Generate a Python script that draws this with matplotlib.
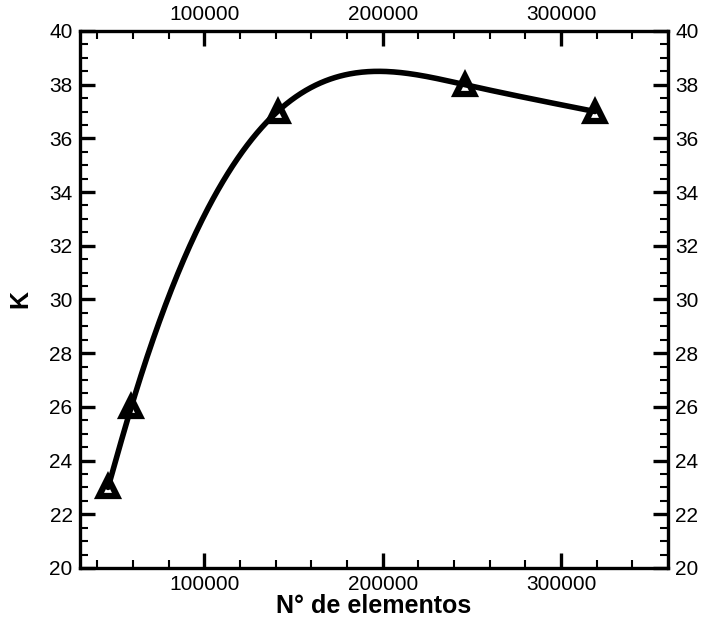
import numpy as np
import matplotlib.pyplot as plt
from matplotlib.ticker import MultipleLocator

# mesh size vs K
elements = [46000, 59000, 141000, 246000, 319000]
k_values = [23, 26, 37, 38, 37]


def natural_spline(x, y, n=400):
    # curve drawn the way the original plotting tool smooths the line
    x = np.asarray(x, float)
    y = np.asarray(y, float)
    m = len(x)
    h = np.diff(x)
    A = np.zeros((m, m))
    b = np.zeros(m)
    A[0, 0] = A[-1, -1] = 1
    for i in range(1, m - 1):
        A[i, i - 1] = h[i - 1]
        A[i, i] = 2 * (h[i - 1] + h[i])
        A[i, i + 1] = h[i]
        b[i] = 6 * ((y[i + 1] - y[i]) / h[i] - (y[i] - y[i - 1]) / h[i - 1])
    M = np.linalg.solve(A, b)
    xs = np.linspace(x[0], x[-1], n)
    idx = np.clip(np.searchsorted(x, xs) - 1, 0, m - 2)
    x0, x1 = x[idx], x[idx + 1]
    hh = x1 - x0
    t0, t1 = x1 - xs, xs - x0
    ys = (M[idx] * t0**3 + M[idx + 1] * t1**3) / (6 * hh) \
        + (y[idx] / hh - M[idx] * hh / 6) * t0 \
        + (y[idx + 1] / hh - M[idx + 1] * hh / 6) * t1
    return xs, ys


plt.rcParams['font.family'] = ['Liberation Sans', 'DejaVu Sans']

fig = plt.figure(figsize=(7.04, 6.23), dpi=100)
ax = fig.add_axes([0.113, 0.0883, 0.836, 0.862])

xs, ys = natural_spline(elements, k_values)
ax.plot(xs, ys, color='black', lw=4, solid_capstyle='round')
ax.plot(elements, k_values, linestyle='none', marker='^', markersize=13,
        markerfacecolor='none', markeredgecolor='black', markeredgewidth=4.5)

ax.set_xlim(30000, 360000)
ax.set_ylim(20, 40)
ax.xaxis.set_major_locator(MultipleLocator(100000))
ax.xaxis.set_minor_locator(MultipleLocator(20000))
ax.yaxis.set_major_locator(MultipleLocator(2))
ax.yaxis.set_minor_locator(MultipleLocator(0.5))

ax.tick_params(which='both', direction='in', top=True, right=True,
               labeltop=True, labelright=True, labelsize=15, width=1.5)
ax.tick_params(which='major', length=10.5, width=2.4, pad=5)
ax.tick_params(which='minor', length=6)
for s in ax.spines.values():
    s.set_linewidth(2.4)

ax.set_xlabel('N° de elementos', fontsize=18, fontweight='bold', labelpad=0)
ax.set_ylabel('K', fontsize=18, fontweight='bold', labelpad=12)

fig.savefig('out.png', dpi=100)
